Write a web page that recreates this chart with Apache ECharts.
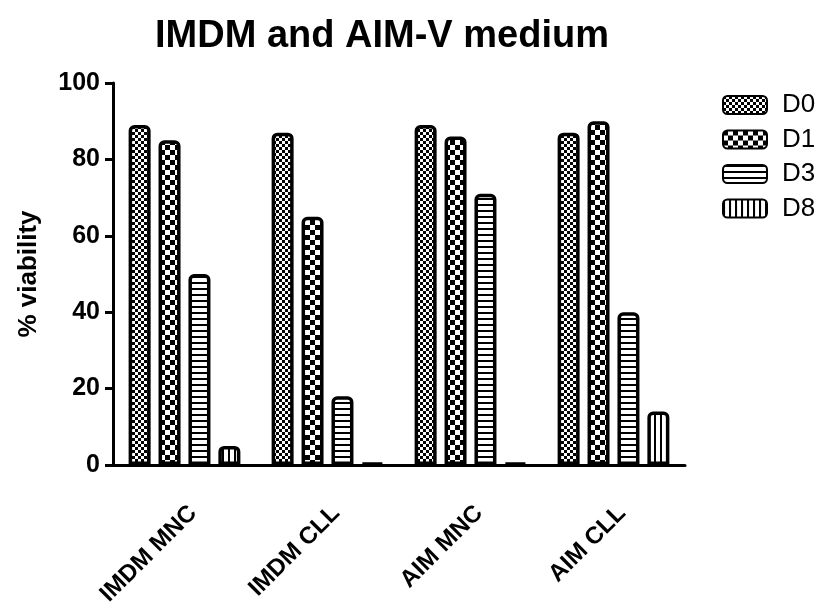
<!DOCTYPE html>
<html>
<head>
<meta charset="utf-8">
<script src="https://cdn.jsdelivr.net/npm/echarts@6/dist/echarts.min.js"></script>
<style>html,body{margin:0;padding:0;background:#fff}#c{width:830px;height:609px}</style>
</head>
<body>
<div id="c"></div>
<script>
const categories = ['IMDM MNC', 'IMDM CLL', 'AIM MNC', 'AIM CLL'];
const seriesNames = ['D0', 'D1', 'D3', 'D8'];
const d0 = [89, 87, 89, 87];
const d1 = [85, 65, 86, 90];
const d3 = [50, 18, 71, 40];
const d8 = [5, 0.5, 0.5, 14];
const yTicks = [0, 20, 40, 60, 80, 100];

function makePattern(kind) {
  const c = document.createElement('canvas');
  const ctx = c.getContext('2d');
  if (kind === 'fine' || kind === 'coarse') {
    const s = kind === 'fine' ? 3 : 5;
    c.width = 2 * s; c.height = 2 * s;
    ctx.fillStyle = '#fff'; ctx.fillRect(0, 0, 2 * s, 2 * s);
    ctx.fillStyle = '#000';
    ctx.fillRect(0, 0, s, s); ctx.fillRect(s, s, s, s);
  } else if (kind === 'hline') {
    c.width = 4; c.height = 6;
    ctx.fillStyle = '#fff'; ctx.fillRect(0, 0, 4, 6);
    ctx.fillStyle = '#000'; ctx.fillRect(0, 0, 4, 2);
  } else {
    c.width = 6; c.height = 4;
    ctx.fillStyle = '#fff'; ctx.fillRect(0, 0, 6, 4);
    ctx.fillStyle = '#000'; ctx.fillRect(0, 0, 2, 4);
  }
  return { image: c, repeat: 'repeat' };
}
const patterns = [makePattern('fine'), makePattern('coarse'), makePattern('hline'), makePattern('vline')];
const data = [d0, d1, d3, d8];
const FONT = 'Arial, "Liberation Sans", Helvetica, sans-serif';

const chart = echarts.init(document.getElementById('c'), null, { renderer: 'canvas' });
chart.setOption({
  animation: false,
  backgroundColor: '#fff',
  title: {
    text: 'IMDM and AIM-V medium',
    left: 377, top: 13, textAlign: 'center',
    textStyle: { fontFamily: FONT, fontWeight: 'bold', fontSize: 38, color: '#000' }
  },
  legend: {
    orient: 'vertical', left: 717, top: 87,
    itemWidth: 44, itemHeight: 18, itemGap: 8.5,
    icon: 'roundRect',
    data: seriesNames,
    textStyle: { fontFamily: FONT, fontSize: 26, color: '#000', padding: [0, 0, 0, 10] }
  },
  grid: { left: 113, right: 145, top: 83, bottom: 144, containLabel: false },
  xAxis: {
    type: 'category', data: categories, boundaryGap: true,
    axisLine: { lineStyle: { color: '#000', width: 3 } },
    axisTick: { alignWithLabel: true, length: 9, lineStyle: { color: '#000', width: 3 } },
    axisLabel: { rotate: 45, margin: 36, verticalAlign: 'top', fontFamily: FONT, fontWeight: 'bold', fontSize: 24, color: '#000' },
    splitLine: { show: false }
  },
  yAxis: {
    type: 'value', min: yTicks[0], max: yTicks[yTicks.length - 1], interval: 20,
    name: '% viability', nameLocation: 'middle', nameRotate: 90, nameGap: 71,
    nameTextStyle: { fontFamily: FONT, fontWeight: 'bold', fontSize: 26, color: '#000' },
    axisLine: { show: true, lineStyle: { color: '#000', width: 3 } },
    axisTick: { show: true, length: 8, lineStyle: { color: '#000', width: 3 } },
    axisLabel: { margin: 13, fontFamily: FONT, fontWeight: 'bold', fontSize: 25, color: '#000' },
    splitLine: { show: false }
  },
  series: seriesNames.map((n, i) => ({
    name: n, type: 'bar', data: data[i],
    barWidth: 22, barGap: '36%',
    itemStyle: { color: patterns[i], borderColor: '#000', borderWidth: 3.5, borderRadius: [4, 4, 0, 0] }
  }))
});
</script>
</body>
</html>
